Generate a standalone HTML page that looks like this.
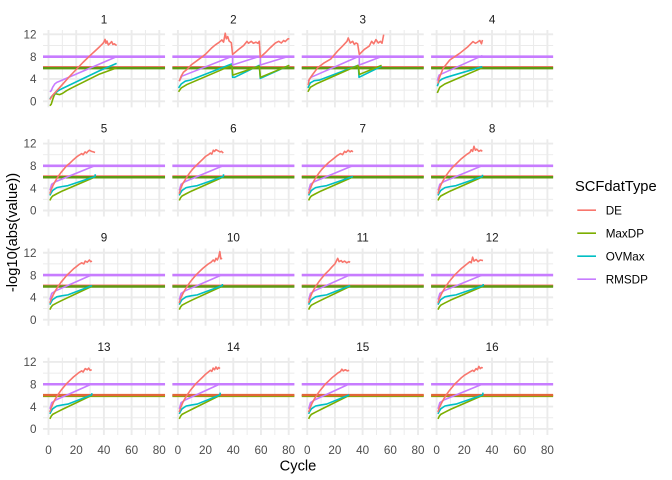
<!DOCTYPE html>
<html><head><meta charset="utf-8"><style>
html,body{margin:0;padding:0;background:#fff;}
svg{display:block;}
svg path,svg polyline{vector-effect:non-scaling-stroke;fill:none;stroke-linejoin:round;stroke-linecap:butt;}
.mj{stroke:#EBEBEB;stroke-width:1.9;}
.mn{stroke:#EBEBEB;stroke-width:0.95;}
.de{stroke:#F8766D;stroke-width:1.6;}
.mx{stroke:#7CAE00;stroke-width:1.6;}
.ov{stroke:#00BFC4;stroke-width:1.6;}
.rm{stroke:#C77CFF;stroke-width:1.6;}
text{font-family:"Liberation Sans",Arial,sans-serif;}
.tk{font-size:11.7px;fill:#4D4D4D;}
.st{font-size:11.7px;fill:#1A1A1A;text-anchor:middle;}
.ti{font-size:14.7px;fill:#000;}
.lg{font-size:11.7px;fill:#000;}
</style></head><body>
<svg width="672" height="480" viewBox="0 0 672 480" xmlns="http://www.w3.org/2000/svg">
<rect width="672" height="480" fill="#fff"/>
<defs>
<g id="grid">
<path class="mn" d="M10,-1.083V12.77M30,-1.083V12.77M50,-1.083V12.77M70,-1.083V12.77M-3.97,2H84.14M-3.97,6H84.14M-3.97,10H84.14"/>
<path class="mj" d="M0,-1.083V12.77M20,-1.083V12.77M40,-1.083V12.77M60,-1.083V12.77M80,-1.083V12.77M-3.97,0H84.14M-3.97,4H84.14M-3.97,8H84.14M-3.97,12H84.14"/>
</g>
<g id="hl">
<path style="stroke:#C77CFF;stroke-width:2.6" d="M-3.97,8H84.14"/>
<path style="stroke:#F8766D;stroke-width:2.2" d="M-3.97,6.12H84.14"/>
<path style="stroke:#5E9A12;stroke-width:2.5" d="M-3.97,5.95H84.14"/>
</g>
<g id="hl4">
<path style="stroke:#C77CFF;stroke-width:2.6" d="M-3.97,8H84.14"/>
<path style="stroke:#7CAE00;stroke-width:2.2" d="M-3.97,5.9H84.14"/>
<path style="stroke:#E2663A;stroke-width:2.4" d="M-3.97,6.07H84.14"/>
</g>
</defs>

<!-- Row 1 -->
<g transform="translate(48.5,101.3) scale(1.385,-5.58)">
<use href="#grid"/><use href="#hl"/>
<polyline class="mx" points="1,-0.8 2,-0.5 3,0.3 4,1.0 5,1.4 6,1.3 8,1.2 10,1.4 13,1.9 16,2.3 37,4.9 49.2,6.0"/>
<polyline class="ov" points="1,0.4 2,0.8 4,1.3 7,1.9 10,2.3 37,5.5 49.2,6.8"/>
<polyline class="rm" points="1,1.7 2,1.9 3,2.5 4.5,3.1 6,3.4 8,3.6 49.2,8.0"/>
<polyline class="de" points="1,0.3 3,1.1 6,1.9 10,3.0 15,4.4 20,5.7 25,7.0 30,8.2 34,9.1 37,9.8 39,10.3 40,10.6 40.8,11.1 41.5,10.4 42.2,10.8 43.2,10.1 44.5,10.4 45.6,10.7 46.5,10.2 47.5,10.3 49.2,10.0"/>
</g>
<g transform="translate(177.87,101.3) scale(1.385,-5.58)">
<use href="#grid"/><use href="#hl"/>
<polyline class="ov" points="0.5,2.4 2.4,3.1 5.3,3.6 8.9,3.8 39,6.7 39.5,4.3 41,4.3 58.8,6.45 59.5,4.1 80.5,6.45"/>
<polyline class="mx" points="0.5,1.7 2.4,2.4 6.5,3.0 39,6.45 39.6,4.7 58.8,6.3 59.6,4.3 80.5,6.45"/>
<polyline class="rm" points="1,3.6 2.9,4.5 39.5,8.1 39.5,6.5 59.5,8.1 59.5,6.5 80.5,8.1"/>
<polyline class="de" points="1,3.6 2.4,4.5 4,5.2 6.5,5.7 10,6.6 15,7.5 19.8,8.4 24.6,9.6 27,10.1 29.4,10.5 31.8,11 33,10.6 34.2,12.2 35,11.2 36,11.6 37,10.8 38.6,10.5 39.5,8.4 41,8.7 43.9,9.3 47.5,10 49.9,10.75 51,10.4 53,10.75 54.5,10.4 56.4,10.6 57.8,10.4 58.8,10.75 59.5,7.9 63.1,8.7 66.7,9.6 70.4,10.45 72.8,10.75 74.7,10.45 76.4,10.9 77.5,10.7 79.5,11.2 80.5,11.2"/>
</g>
<g transform="translate(307.23,101.3) scale(1.385,-5.58)">
<use href="#grid"/><use href="#hl"/>
<polyline class="ov" points="0.5,2.4 2.2,3.3 5,3.7 8.7,3.8 36.9,6.45 37.4,4.3 53.7,6.3"/>
<polyline class="mx" points="0.5,1.7 2.2,2.5 6.3,3.1 36.9,6.45 37.6,4.8 53.7,6.45"/>
<polyline class="rm" points="0.7,3.6 2.7,4.3 37.6,8.1 37.6,6.5 54.5,8.1"/>
<polyline class="de" points="0.7,2.9 1.4,3.9 3.9,4.8 7.5,6 12.3,6.9 17.1,7.6 21.9,9 25.5,9.9 28.7,10.75 29.6,11.35 31.1,10.45 32.8,10.75 34,10.2 35.2,10.45 36.4,10.3 37.6,8.4 41.2,9.3 44.8,9.9 46.5,10.75 48,10.3 49.6,11.05 51.3,10.45 52.8,10.75 54,10.4 55.2,11.95"/>
</g>
<g transform="translate(436.6,101.3) scale(1.385,-5.58)">
<use href="#grid"/><use href="#hl"/>
<polyline class="mx" points="0.5,1.5 2.3,2.5 5.9,3.1 33,6.0"/>
<polyline class="ov" points="0.5,2.7 1.8,3.6 4,4.0 7.1,4.3 33,6.2"/>
<polyline class="rm" points="0.5,3.7 1.8,4.7 33.1,8.2"/>
<polyline class="de" points="1,3.2 1.8,4.1 4.7,5.9 9.5,7.4 16.7,8.6 22.7,9.8 26.3,10.7 28,10.4 29.5,10.6 31.2,10.9 32.4,10.3 33.1,11"/>
</g>

<!-- Row 2 -->
<g transform="translate(48.5,210.5) scale(1.385,-5.58)">
<use href="#grid"/><use href="#hl"/>
<polyline class="mx" points="1,1.8 2,2.3 3,2.6 6,3.0 10,3.5 33.6,6.0"/>
<polyline class="ov" points="1,2.7 2,3.2 3,3.6 6,4.1 10,4.3 14,4.45 33.6,6.1 33.8,6.5"/>
<polyline class="rm" points="1,3.6 1.5,4.0 2.3,4.7 5.4,5.2 33.6,8.05"/>
<polyline class="de" points="1,3.0 2,3.8 3.5,4.6 5,5.3 7,6.1 9,6.8 11,7.4 13,8.0 15.5,8.5 18,9.1 20.3,9.6 22,9.9 24,10.2 25,10.0 26.4,10.5 27.5,10.3 28.5,10.6 29.5,10.8 31,10.6 32.4,10.5 33.6,10.4"/>
</g>
<g transform="translate(177.87,210.5) scale(1.385,-5.58)">
<use href="#grid"/><use href="#hl"/>
<polyline class="mx" points="1,1.8 2,2.3 3,2.6 6,3.0 10,3.5 32.8,6.0"/>
<polyline class="ov" points="1,2.7 2,3.2 3,3.6 6,4.1 10,4.3 14,4.45 32.8,6.1 33,6.5"/>
<polyline class="rm" points="1,3.6 1.5,4.0 2.3,4.7 5.4,5.2 32.8,8.05"/>
<polyline class="de" points="1,3.0 2,3.9 3.5,4.8 5,5.4 7,6.2 9,6.9 11,7.5 13,8.0 15.5,8.6 18,9.2 20,9.7 22,10.0 23.5,10.3 24.5,10.1 25.6,10.8 26.5,10.6 27.5,10.9 29,10.7 30.5,10.5 31.5,10.6 32.8,10.3"/>
</g>
<g transform="translate(307.23,210.5) scale(1.385,-5.58)">
<use href="#grid"/><use href="#hl"/>
<polyline class="mx" points="1,1.8 2,2.3 3,2.6 6,3.0 10,3.5 33,6.0"/>
<polyline class="ov" points="1,2.7 2,3.2 3,3.6 6,4.1 10,4.3 14,4.45 33,6.1"/>
<polyline class="rm" points="1,3.6 1.5,4.0 2.3,4.7 5.4,5.2 33,8.05"/>
<polyline class="de" points="1,3.0 2,3.8 3.5,4.7 5,5.4 7,6.2 9,6.9 11,7.5 13,8.0 15.5,8.6 18,9.1 20,9.5 22,9.9 24,10.2 25.5,10.0 27,10.6 28,10.4 29.5,10.8 31,10.5 32,10.7 33,10.5"/>
</g>
<g transform="translate(436.6,210.5) scale(1.385,-5.58)">
<use href="#grid"/><use href="#hl"/>
<polyline class="mx" points="1,1.8 2,2.3 3,2.6 6,3.0 10,3.5 33,6.0"/>
<polyline class="ov" points="1,2.7 2,3.2 3,3.6 6,4.1 10,4.3 14,4.45 33,6.1 33.2,6.4"/>
<polyline class="rm" points="1,3.6 1.5,4.0 2.3,4.7 5.4,5.2 33,8.05"/>
<polyline class="de" points="1,3.0 2,3.9 3.5,4.8 5,5.5 7,6.3 9,7.0 11,7.6 13,8.1 15.5,8.7 18,9.3 20,9.7 22,10.1 24,10.4 25,10.9 26,10.6 27,11.5 28,10.8 29,11.0 30.5,10.6 32,10.8 33,10.6"/>
</g>

<!-- Row 3 -->
<g transform="translate(48.5,319.7) scale(1.385,-5.58)">
<use href="#grid"/><use href="#hl"/>
<polyline class="mx" points="1,1.8 2,2.3 3,2.6 6,3.0 10,3.5 31.4,6.0"/>
<polyline class="ov" points="1,2.7 2,3.2 3,3.6 6,4.1 10,4.3 14,4.45 31.4,6.1"/>
<polyline class="rm" points="1,3.6 1.5,4.0 2.3,4.7 5.4,5.2 31.4,8.05"/>
<polyline class="de" points="1,3.0 2,3.7 3.5,4.5 5,5.2 7,6.0 9,6.7 11,7.3 13,7.9 15.5,8.5 18,9.1 20,9.5 22,9.9 24,10.2 25.5,10.0 26.5,10.5 28,10.3 29.5,10.7 30.5,10.4 31.4,10.5"/>
</g>
<g transform="translate(177.87,319.7) scale(1.385,-5.58)">
<use href="#grid"/><use href="#hl"/>
<polyline class="mx" points="1,1.8 2,2.3 3,2.6 6,3.0 10,3.5 32,6.0"/>
<polyline class="ov" points="1,2.7 2,3.2 3,3.6 6,4.1 10,4.3 14,4.45 32,6.1 32.2,6.4"/>
<polyline class="rm" points="1,3.6 1.5,4.0 2.3,4.7 5.4,5.2 32,8.05"/>
<polyline class="de" points="1,3.0 2,3.8 3.5,4.6 5,5.3 7,6.1 9,6.8 11,7.4 13,8.0 15.5,8.6 18,9.2 20,9.6 22,10.0 24,10.3 25.5,10.7 26.5,10.4 27.5,11.0 28.5,10.7 29.5,11.3 30.3,12.2 31,10.9 32,11.0"/>
</g>
<g transform="translate(307.23,319.7) scale(1.385,-5.58)">
<use href="#grid"/><use href="#hl"/>
<polyline class="mx" points="1,1.8 2,2.3 3,2.6 6,3.0 10,3.5 31,6.0"/>
<polyline class="ov" points="1,2.7 2,3.2 3,3.6 6,4.1 10,4.3 14,4.45 31,6.1"/>
<polyline class="rm" points="1,3.6 1.5,4.0 2.3,4.7 5.4,5.2 31,8.05"/>
<polyline class="de" points="1,3.0 2,3.9 3.5,4.8 5,5.5 7,6.3 9,7.0 11,7.6 13,8.2 15.5,8.8 18,9.5 20,10.0 21,10.5 22,11.0 23,10.4 24.5,10.6 25.5,10.3 27,10.5 28.5,10.2 30,10.4 31,10.3"/>
</g>
<g transform="translate(436.6,319.7) scale(1.385,-5.58)">
<use href="#grid"/><use href="#hl"/>
<polyline class="mx" points="1,1.8 2,2.3 3,2.6 6,3.0 10,3.5 33.5,6.0"/>
<polyline class="ov" points="1,2.7 2,3.2 3,3.6 6,4.1 10,4.3 14,4.45 33.5,6.1 33.7,6.4"/>
<polyline class="rm" points="1,3.6 1.5,4.0 2.3,4.7 5.4,5.2 33.5,8.05"/>
<polyline class="de" points="1,3.0 2,3.8 3.5,4.6 5,5.3 7,6.1 9,6.8 11,7.4 13,8.0 15.5,8.6 18,9.2 20,9.6 22,10.0 24,10.4 25,10.2 26,11.2 27,10.5 28.5,10.8 30,10.4 31.5,10.7 33.5,10.6"/>
</g>

<!-- Row 4 -->
<g transform="translate(48.5,428.9) scale(1.385,-5.58)">
<use href="#grid"/><use href="#hl4"/>
<polyline class="mx" points="1,1.8 2,2.3 3,2.6 6,3.0 10,3.5 31.2,6.0"/>
<polyline class="ov" points="1,2.7 2,3.2 3,3.6 6,4.1 10,4.3 14,4.45 31.2,6.1 31.4,6.4"/>
<polyline class="rm" points="1,3.6 1.5,4.0 2.3,4.7 5.4,5.2 31.2,8.05"/>
<polyline class="de" points="1,3.0 2,3.8 3.5,4.7 5,5.4 7,6.2 9,6.9 11,7.5 13,8.1 15.5,8.7 18,9.3 20,9.7 22,10.1 24,10.4 25,10.2 26.5,10.8 28,10.6 29,10.9 30,10.5 31.2,10.6"/>
</g>
<g transform="translate(177.87,428.9) scale(1.385,-5.58)">
<use href="#grid"/><use href="#hl4"/>
<polyline class="mx" points="1,1.8 2,2.3 3,2.6 6,3.0 10,3.5 30.4,6.0"/>
<polyline class="ov" points="1,2.7 2,3.2 3,3.6 6,4.1 10,4.3 14,4.45 30.4,6.1 30.6,6.5"/>
<polyline class="rm" points="1,3.6 1.5,4.0 2.3,4.7 5.4,5.2 30.4,8.05"/>
<polyline class="de" points="1,3.0 2,3.8 3.5,4.7 5,5.4 7,6.2 9,6.9 11,7.5 13,8.1 15.5,8.7 18,9.3 20,9.8 22,10.2 23.5,10.5 24.5,10.3 25.5,10.9 26.5,10.6 27.5,11.1 28.5,10.7 29.5,11.0 30.4,10.8"/>
</g>
<g transform="translate(307.23,428.9) scale(1.385,-5.58)">
<use href="#grid"/><use href="#hl4"/>
<polyline class="mx" points="1,1.8 2,2.3 3,2.6 6,3.0 10,3.5 30.3,6.0"/>
<polyline class="ov" points="1,2.7 2,3.2 3,3.6 6,4.1 10,4.3 14,4.45 30.3,6.1"/>
<polyline class="rm" points="1,3.6 1.5,4.0 2.3,4.7 5.4,5.2 30.3,8.05"/>
<polyline class="de" points="1,3.0 2,3.7 3.5,4.6 5,5.3 7,6.1 9,6.8 11,7.4 13,8.0 15.5,8.6 18,9.2 20,9.6 22,10.0 24,10.3 25,10.7 26,10.4 27.5,10.6 29,10.4 30.3,10.5"/>
</g>
<g transform="translate(436.6,428.9) scale(1.385,-5.58)">
<use href="#grid"/><use href="#hl4"/>
<polyline class="mx" points="1,1.8 2,2.3 3,2.6 6,3.0 10,3.5 33.3,6.0"/>
<polyline class="ov" points="1,2.7 2,3.2 3,3.6 6,4.1 10,4.3 14,4.45 33.3,6.1 33.5,6.5"/>
<polyline class="rm" points="1,3.6 1.5,4.0 2.3,4.7 5.4,5.2 33.3,8.05"/>
<polyline class="de" points="1,3.0 2,3.8 3.5,4.6 5,5.3 7,6.1 9,6.8 11,7.4 13,8.0 15.5,8.6 18,9.2 20,9.6 22,9.9 24,10.2 26,10.5 27,10.3 28.5,10.8 29.5,10.6 30.5,11.2 31.5,10.8 32.5,11.0 33.3,10.9"/>
</g>

<!-- strip labels -->
<text class="st" x="104.02" y="23.3">1</text>
<text class="st" x="233.39" y="23.3">2</text>
<text class="st" x="362.75" y="23.3">3</text>
<text class="st" x="492.12" y="23.3">4</text>
<text class="st" x="104.02" y="132.5">5</text>
<text class="st" x="233.39" y="132.5">6</text>
<text class="st" x="362.75" y="132.5">7</text>
<text class="st" x="492.12" y="132.5">8</text>
<text class="st" x="104.02" y="241.7">9</text>
<text class="st" x="233.39" y="241.7">10</text>
<text class="st" x="362.75" y="241.7">11</text>
<text class="st" x="492.12" y="241.7">12</text>
<text class="st" x="104.02" y="350.9">13</text>
<text class="st" x="233.39" y="350.9">14</text>
<text class="st" x="362.75" y="350.9">15</text>
<text class="st" x="492.12" y="350.9">16</text>

<!-- y tick labels -->
<g class="tk" text-anchor="end">
<text x="36.5" y="38.5">12</text><text x="36.5" y="60.9">8</text><text x="36.5" y="83.2">4</text><text x="36.5" y="105.5">0</text>
<text x="36.5" y="147.7">12</text><text x="36.5" y="170.1">8</text><text x="36.5" y="192.4">4</text><text x="36.5" y="214.7">0</text>
<text x="36.5" y="256.9">12</text><text x="36.5" y="279.3">8</text><text x="36.5" y="301.6">4</text><text x="36.5" y="323.9">0</text>
<text x="36.5" y="366.1">12</text><text x="36.5" y="388.5">8</text><text x="36.5" y="410.8">4</text><text x="36.5" y="433.1">0</text>
</g>

<!-- x tick labels -->
<g class="tk" text-anchor="middle">
<text x="48.5" y="454">0</text><text x="76.2" y="454">20</text><text x="103.9" y="454">40</text><text x="131.6" y="454">60</text><text x="159.3" y="454">80</text>
<text x="177.87" y="454">0</text><text x="205.57" y="454">20</text><text x="233.27" y="454">40</text><text x="260.97" y="454">60</text><text x="288.67" y="454">80</text>
<text x="307.23" y="454">0</text><text x="334.93" y="454">20</text><text x="362.63" y="454">40</text><text x="390.33" y="454">60</text><text x="418.03" y="454">80</text>
<text x="436.6" y="454">0</text><text x="464.3" y="454">20</text><text x="492" y="454">40</text><text x="519.7" y="454">60</text><text x="547.4" y="454">80</text>
</g>

<!-- axis titles -->
<text class="ti" x="298" y="470.5" text-anchor="middle">Cycle</text>
<text class="ti" transform="translate(17,232.5) rotate(-90)" text-anchor="middle">-log10(abs(value))</text>

<!-- legend -->
<text class="ti" x="575" y="190.8">SCFdatType</text>
<line x1="577.3" y1="210.2" x2="596" y2="210.2" stroke="#F8766D" stroke-width="1.6"/>
<line x1="577.3" y1="233.2" x2="596" y2="233.2" stroke="#7CAE00" stroke-width="1.6"/>
<line x1="577.3" y1="256.2" x2="596" y2="256.2" stroke="#00BFC4" stroke-width="1.6"/>
<line x1="577.3" y1="279.2" x2="596" y2="279.2" stroke="#C77CFF" stroke-width="1.6"/>
<text class="lg" x="605.7" y="214.4">DE</text>
<text class="lg" x="605.7" y="237.4">MaxDP</text>
<text class="lg" x="605.7" y="260.4">OVMax</text>
<text class="lg" x="605.7" y="283.4">RMSDP</text>
</svg>
</body></html>
